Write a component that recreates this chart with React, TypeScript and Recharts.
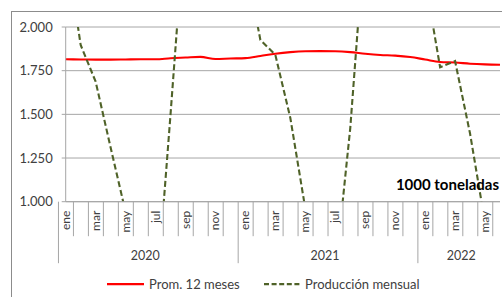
import React from 'react';
import { LineChart, Line, XAxis, YAxis, CartesianGrid } from 'recharts';

const monthNames = ['ene', 'feb', 'mar', 'abr', 'may', 'jun', 'jul', 'ago', 'sep', 'oct', 'nov', 'dic'];
const years = [2020, 2021, 2022];
const monthsPerYear = [12, 12, 6];

const prom12 = [
  1815, 1814, 1813, 1813, 1814, 1815, 1815, 1821, 1825, 1829, 1817, 1820,
  1822, 1834, 1847, 1856, 1861, 1862, 1861, 1856, 1847, 1840, 1836, 1828,
  1814, 1800, 1797, 1790, 1786, 1784,
];
const prodMensual = [
  2470, 1897, 1687, 1310, 940, 300, 390, 1500, 2650, 3000, 2900, 2700,
  2370, 1926, 1840, 1479, 960, 300, 590, 1420, 2560, 3000, 2900, 2600,
  2270, 1770, 1805, 1390, 880, 300,
];
const yTicks = [1000, 1250, 1500, 1750, 2000];

const data: { month: string; year: number; prom: number; prod: number }[] = [];
{
  let k = 0;
  years.forEach((yr, yi) => {
    for (let m = 0; m < monthsPerYear[yi]; m++) {
      data.push({ month: monthNames[m], year: yr, prom: prom12[k], prod: prodMensual[k] });
      k++;
    }
  });
}

const W = 502;
const H = 297;
const MARGIN = { top: 27, right: 2, left: 0.7, bottom: 33.3 };
const YAXIS_W = 65;
const XAXIS_H = 62;
const PLOT_W = W - MARGIN.left - MARGIN.right - YAXIS_W;
const BAND = PLOT_W / data.length;

const FONT = "Lato, 'Open Sans', sans-serif";
const GRID = '#a6a6a6';
const TXT = '#404040';

const fmt = (v: number) => {
  const th = Math.floor(v / 1000);
  const rest = String(Math.round(v % 1000)).padStart(3, '0');
  return `${th}.${rest}`;
};

function MonthTick(props: any) {
  const { x, y, index } = props;
  const i: number = index;
  const d = data[i];
  const left = x - BAND / 2;
  const right = x + BAND / 2;
  const isYearStart = monthNames.indexOf(d.month) === 0;
  const isLast = i === data.length - 1;
  const els: React.ReactNode[] = [];
  els.push(
    <line key="l" x1={left} x2={left} y1={y} y2={isYearStart ? y + 61.5 : y + 34.5} stroke={GRID} strokeWidth={1} />
  );
  if (isLast) {
    els.push(<line key="r" x1={right} x2={right} y1={y} y2={y + 61.5} stroke={GRID} strokeWidth={1} />);
  }
  if (i % 2 === 0) {
    els.push(
      <text
        key="t"
        transform={`translate(${x + 4},${y + 9}) rotate(-90)`}
        textAnchor="end"
        fontFamily={FONT}
        fontSize={12}
        fill={TXT}
      >
        {d.month}
      </text>
    );
  }
  if (isYearStart) {
    const cnt = data.filter((e) => e.year === d.year).length;
    els.push(
      <text key="y" x={left + (cnt * BAND) / 2} y={y + 58} textAnchor="middle" fontFamily={FONT} fontSize={12.5} fill={TXT}>
        {d.year}
      </text>
    );
  }
  return <g>{els}</g>;
}

export default function App() {
  return (
    <div style={{ position: 'absolute', left: 0, top: 0, width: W, height: H, overflow: 'hidden', background: '#fff' }}>
      <div
        style={{
          position: 'absolute',
          left: 11,
          top: 11,
          width: 520,
          height: 320,
          border: '1px solid #8c8c8c',
          boxSizing: 'border-box',
        }}
      />
      <div style={{ position: 'absolute', left: 0, top: 0 }}>
        <LineChart width={W} height={H} data={data} margin={MARGIN}>
          <CartesianGrid vertical={false} stroke={GRID} strokeWidth={1} />
          <XAxis
            dataKey="month"
            interval={0}
            height={XAXIS_H}
            tickLine={false}
            tickSize={0}
            tickMargin={0}
            axisLine={{ stroke: GRID }}
            tick={<MonthTick />}
          />
          <YAxis
            width={YAXIS_W}
            domain={[1000, 2000]}
            ticks={yTicks}
            allowDataOverflow
            tickFormatter={fmt}
            tickSize={4}
            tickMargin={9}
            tickLine={{ stroke: GRID }}
            axisLine={{ stroke: GRID }}
            tick={{ fontFamily: FONT, fontSize: 13, fill: TXT }}
          />
          <Line
            dataKey="prom"
            name="Prom. 12 meses"
            type="monotone"
            stroke="#ff0000"
            strokeWidth={2.1}
            dot={false}
            activeDot={false}
            isAnimationActive={false}
          />
          <Line
            dataKey="prod"
            name="Producción mensual"
            type="linear"
            stroke="#4f6228"
            strokeWidth={2.1}
            strokeDasharray="6 3"
            dot={false}
            activeDot={false}
            isAnimationActive={false}
          />
        </LineChart>
      </div>
      <div
        style={{
          position: 'absolute',
          right: 3,
          top: 175,
          fontFamily: FONT,
          fontWeight: 700,
          fontSize: 15,
          color: '#000',
          whiteSpace: 'nowrap',
          lineHeight: '18px',
        }}
      >
        1000 toneladas
      </div>
      <svg style={{ position: 'absolute', left: 0, top: 270 }} width={W} height={27}>
        <line x1={107} x2={144} y1={14} y2={14} stroke="#ff0000" strokeWidth={2.25} />
        <text x={149} y={18.5} fontFamily={FONT} fontSize={13} fill={TXT}>
          Prom. 12 meses
        </text>
        <line x1={264} x2={302} y1={14} y2={14} stroke="#4f6228" strokeWidth={2.25} strokeDasharray="5 2.6" />
        <text x={305} y={18.5} fontFamily={FONT} fontSize={13} fill={TXT}>
          Producción mensual
        </text>
      </svg>
    </div>
  );
}
